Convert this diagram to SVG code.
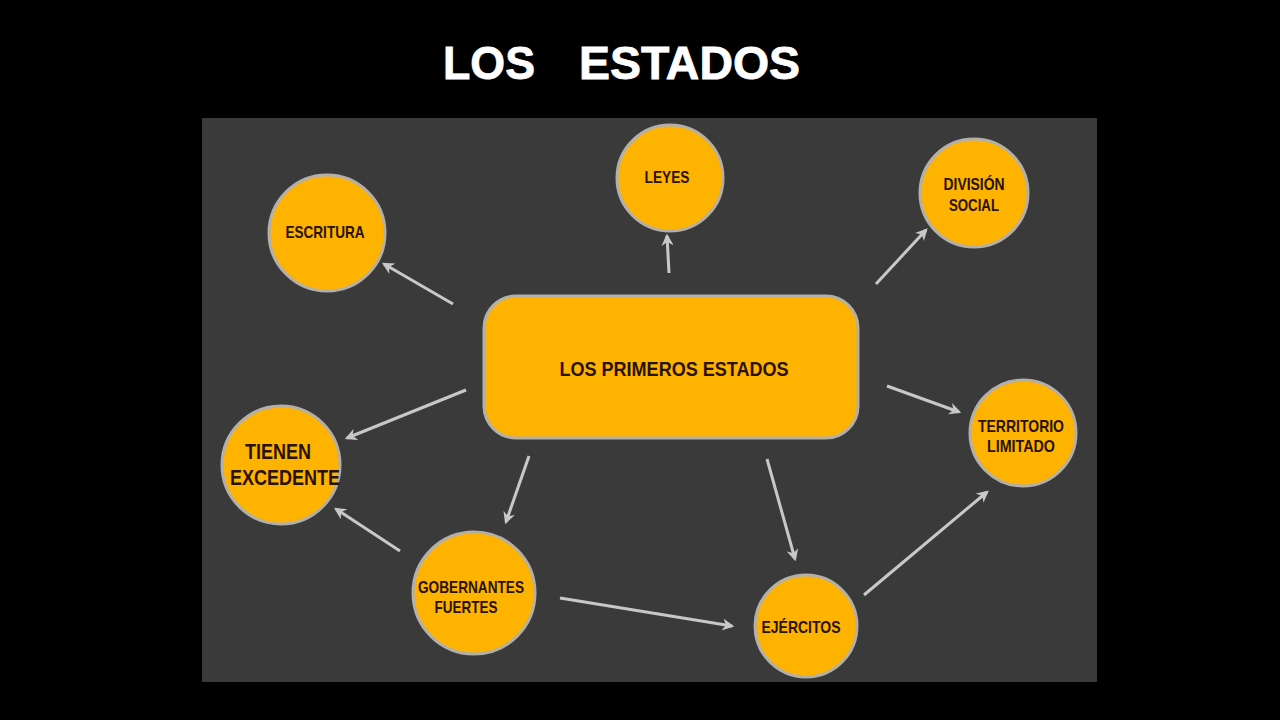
<svg xmlns="http://www.w3.org/2000/svg" width="1280" height="720" viewBox="0 0 1280 720">
<defs>
<marker id="ah" viewBox="0 0 10 10" refX="8" refY="5" markerWidth="4" markerHeight="4" orient="auto" markerUnits="strokeWidth">
<path d="M0,0 L10,5 L0,10 L3,5 Z" fill="#c8c8c8"/>
</marker>
<style>
.nd{fill:#fdb300;stroke:#b4b0a8;stroke-width:3}
.t{font-family:"Liberation Sans",Arial,sans-serif;font-weight:bold;fill:#2a1200;text-anchor:middle}
.c{stroke:#c8c8c8;stroke-width:3;fill:none;marker-end:url(#ah)}
.h{font-family:"Liberation Sans",Arial,sans-serif;font-weight:bold;font-size:46px;fill:#fff;stroke:#fff;stroke-width:0.8}
</style>
</defs>
<rect x="0" y="0" width="1280" height="720" fill="#000"/>
<rect x="202" y="118" width="895" height="564" fill="#3a3a3a"/>
<g id="title">
<text class="h" x="443" y="79" textLength="92" lengthAdjust="spacingAndGlyphs">LOS</text>
<text class="h" x="579" y="79" textLength="221" lengthAdjust="spacingAndGlyphs">ESTADOS</text>
</g>
<g id="connectors">
<line class="c" x1="453" y1="304" x2="384" y2="264"/>
<line class="c" x1="669" y1="273" x2="667" y2="236"/>
<line class="c" x1="876" y1="284" x2="926" y2="230"/>
<line class="c" x1="887" y1="386" x2="959" y2="412"/>
<line class="c" x1="466" y1="390" x2="347" y2="438"/>
<line class="c" x1="529" y1="456" x2="506" y2="522"/>
<line class="c" x1="767" y1="459" x2="795" y2="559"/>
<line class="c" x1="400" y1="551" x2="336" y2="509"/>
<line class="c" x1="560" y1="598" x2="732" y2="626"/>
<line class="c" x1="864" y1="595" x2="987" y2="492"/>
</g>
<g id="center">
<rect class="nd" x="484" y="296" width="374" height="142" rx="32"/>
<text class="t" x="674" y="376" font-size="21" textLength="229" lengthAdjust="spacingAndGlyphs">LOS PRIMEROS ESTADOS</text>
</g>
<g id="escritura">
<circle class="nd" cx="327" cy="233" r="58"/>
<text class="t" x="325" y="238" font-size="17" textLength="79" lengthAdjust="spacingAndGlyphs">ESCRITURA</text>
</g>
<g id="leyes">
<circle class="nd" cx="670" cy="178" r="53"/>
<text class="t" x="667" y="183" font-size="17" textLength="45" lengthAdjust="spacingAndGlyphs">LEYES</text>
</g>
<g id="division">
<circle class="nd" cx="974" cy="193" r="54"/>
<text class="t" x="974" y="190" font-size="17" textLength="61" lengthAdjust="spacingAndGlyphs">DIVISIÓN</text>
<text class="t" x="974" y="211" font-size="17" textLength="50" lengthAdjust="spacingAndGlyphs">SOCIAL</text>
</g>
<g id="territorio">
<circle class="nd" cx="1023" cy="433" r="53"/>
<text class="t" x="1021" y="432" font-size="17" textLength="86" lengthAdjust="spacingAndGlyphs">TERRITORIO</text>
<text class="t" x="1021" y="452" font-size="17" textLength="68" lengthAdjust="spacingAndGlyphs">LIMITADO</text>
</g>
<g id="tienen">
<ellipse class="nd" cx="281" cy="465" rx="59" ry="59"/>
<text class="t" x="278" y="459" font-size="22" textLength="66" lengthAdjust="spacingAndGlyphs">TIENEN</text>
<text class="t" x="285" y="485" font-size="22" textLength="110" lengthAdjust="spacingAndGlyphs">EXCEDENTE</text>
</g>
<g id="gobernantes">
<ellipse class="nd" cx="474" cy="593" rx="61" ry="61"/>
<text class="t" x="471" y="593" font-size="17" textLength="106" lengthAdjust="spacingAndGlyphs">GOBERNANTES</text>
<text class="t" x="466" y="613" font-size="17" textLength="63" lengthAdjust="spacingAndGlyphs">FUERTES</text>
</g>
<g id="ejercitos">
<ellipse class="nd" cx="806" cy="626" rx="51" ry="51"/>
<text class="t" x="801" y="633" font-size="17" textLength="79" lengthAdjust="spacingAndGlyphs">EJÉRCITOS</text>
</g>
</svg>
